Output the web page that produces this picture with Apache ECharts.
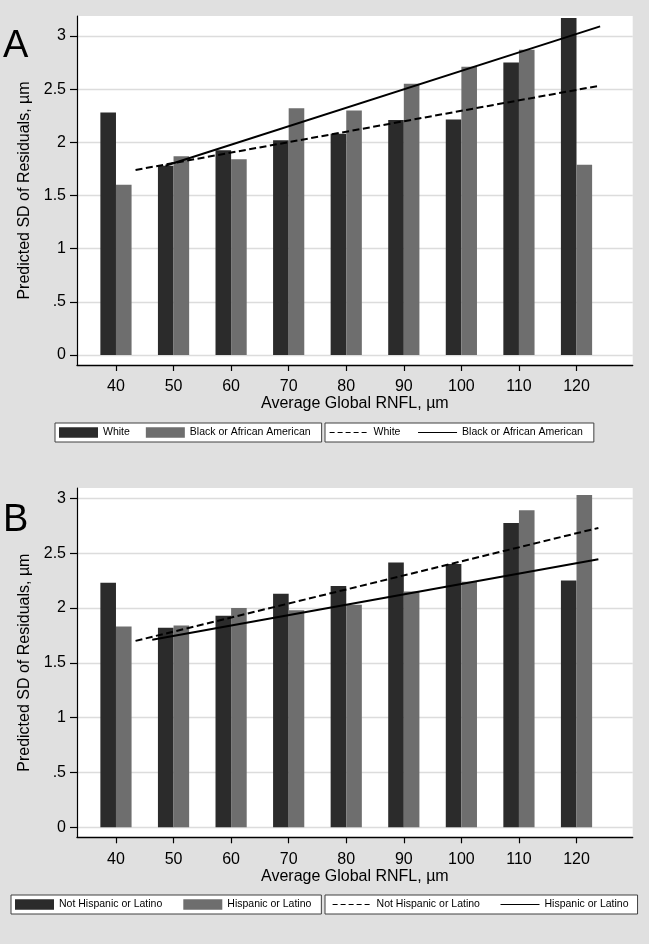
<!DOCTYPE html>
<html><head><meta charset="utf-8">
<script src="https://cdn.jsdelivr.net/npm/echarts@6/dist/echarts.min.js"></script>
<style>html,body{margin:0;padding:0;background:#e0e0e0}#c{width:649px;height:944px}</style>
</head><body><div id="c"></div><script>
// ---- data ----
const rnfl = [40, 50, 60, 70, 80, 90, 100, 110, 120];
const yTicks = [0, 0.5, 1, 1.5, 2, 2.5, 3];
// Panel A
const whiteBars = [2.28, 1.78, 1.925, 2.02, 2.08, 2.21, 2.215, 2.75, 3.17];
const blackBars = [1.60, 1.87, 1.84, 2.32, 2.30, 2.55, 2.71, 2.87, 1.79];
const whiteFit = [[43.4, 1.74], [123.8, 2.53]];
const blackFit = [[48.6, 1.78], [124.1, 3.09]];
// Panel B
const notHispBars = [2.23, 1.82, 1.93, 2.13, 2.20, 2.415, 2.40, 2.775, 2.25];
const hispBars = [1.83, 1.84, 2.00, 1.98, 2.03, 2.15, 2.24, 2.89, 3.03];
const notHispFit = [[43.4, 1.70], [123.8, 2.73]];
const hispFit = [[46.3, 1.71], [123.8, 2.445]];

const FONT = 'Liberation Sans, Arial, Helvetica, sans-serif';
const DARK = '#2b2b2b', GRAY = '#6e6e6e';
const DASH = [7, 3.5];
const pairs = arr => rnfl.map((x, i) => [x, arr[i]]);
const fmtY = v => v === 0 ? '0' : (v < 1 ? String(v).replace(/^0/, '') : String(v));

function xAxisCfg(gi) {
  return {
    type: 'value', gridIndex: gi, min: 33.23, max: 129.76,
    axisLine: {show: true, onZero: false, lineStyle: {color: '#000', width: 1.3}},
    axisTick: {show: true, customValues: rnfl, length: 6, lineStyle: {color: '#000', width: 1.2}},
    axisLabel: {customValues: rnfl, fontSize: 16, color: '#000', fontFamily: FONT, margin: 14},
    splitLine: {show: false},
    name: 'Average Global RNFL, µm', nameLocation: 'middle', nameGap: 25,
    nameTextStyle: {fontSize: 16, color: '#000', fontFamily: FONT}
  };
}
function yAxisCfg(gi, mn, mx) {
  return {
    type: 'value', gridIndex: gi, min: mn, max: mx,
    axisLine: {show: true, onZero: false, lineStyle: {color: '#000', width: 1.2}},
    axisTick: {show: true, customValues: yTicks, length: 7, lineStyle: {color: '#000', width: 1.2}},
    axisLabel: {customValues: yTicks, formatter: fmtY, fontSize: 16, color: '#000', fontFamily: FONT, margin: 11},
    splitLine: {show: true, lineStyle: {color: '#dcdcdc', width: 1.3}},
    name: 'Predicted SD of Residuals, µm', nameLocation: 'middle', nameGap: 34,
    nameTextStyle: {fontSize: 16, color: '#000', fontFamily: FONT}
  };
}
function barSeries(name, data, color, gi) {
  return {type: 'bar', name, xAxisIndex: gi, yAxisIndex: gi, data: pairs(data),
    barWidth: 15.6, barGap: '0%', itemStyle: {color}, z: 2};
}
function lineSeries(name, data, dashed, gi) {
  return {type: 'line', name, xAxisIndex: gi, yAxisIndex: gi, data, symbol: 'none',
    itemStyle: {color: '#000'},
    lineStyle: {color: '#000', width: 2, type: dashed ? DASH : 'solid'}, z: 3};
}
const legendBase = {
  orient: 'horizontal', itemWidth: 39, itemHeight: 10.5, borderColor: '#404040', borderWidth: 1,
  backgroundColor: '#fff', selectedMode: false, borderRadius: 0,
  textStyle: {fontSize: 10.5, color: '#000', fontFamily: FONT, lineHeight: 11},
  formatter: n => n.replace(' (fit)', '')
};
const legItemBar = n => ({name: n, icon: 'rect'});
const legItemLine = (n, dashed) => ({name: n,
  itemStyle: {color: 'rgba(0,0,0,0)', borderWidth: 0, opacity: 0},
  lineStyle: {width: 1.2, color: '#000', type: dashed ? [5, 3] : 'solid'}});

const option = {
  backgroundColor: '#e0e0e0',
  animation: false,
  textStyle: {fontFamily: FONT},
  title: [
    {text: 'A', left: 3, top: 28, padding: 0, textStyle: {fontSize: 38, fontWeight: 'normal', color: '#000', fontFamily: FONT}},
    {text: 'B', left: 3, top: 502, padding: 0, textStyle: {fontSize: 38, fontWeight: 'normal', color: '#000', fontFamily: FONT}}
  ],
  grid: [
    {left: 77, top: 16, width: 555.7, height: 349, show: true, backgroundColor: '#ffffff', borderWidth: 0},
    {left: 77, top: 488, width: 555.7, height: 349.3, show: true, backgroundColor: '#ffffff', borderWidth: 0}
  ],
  xAxis: [xAxisCfg(0), xAxisCfg(1)],
  yAxis: [yAxisCfg(0, -0.094, 3.188), yAxisCfg(1, -0.091, 3.094)],
  legend: [
    Object.assign({}, legendBase, {left: 55, top: 423, padding: [4, 11, 4, 4], itemGap: 16,
      data: [legItemBar('White'), legItemBar('Black or African American')]}),
    Object.assign({}, legendBase, {left: 325, top: 423, padding: [4, 11, 4, 4], itemGap: 17,
      data: [legItemLine('White (fit)', true), legItemLine('Black or African American (fit)', false)]}),
    Object.assign({}, legendBase, {left: 11, top: 895, padding: [4, 10, 4, 4], itemGap: 21,
      data: [legItemBar('Not Hispanic or Latino'), legItemBar('Hispanic or Latino')]}),
    Object.assign({}, legendBase, {left: 325, top: 895, padding: [4, 9, 4, 7], itemGap: 20,
      data: [legItemLine('Not Hispanic or Latino (fit)', true), legItemLine('Hispanic or Latino (fit)', false)]})
  ],
  series: [
    barSeries('White', whiteBars, DARK, 0),
    barSeries('Black or African American', blackBars, GRAY, 0),
    lineSeries('White (fit)', whiteFit, true, 0),
    lineSeries('Black or African American (fit)', blackFit, false, 0),
    barSeries('Not Hispanic or Latino', notHispBars, DARK, 1),
    barSeries('Hispanic or Latino', hispBars, GRAY, 1),
    lineSeries('Not Hispanic or Latino (fit)', notHispFit, true, 1),
    lineSeries('Hispanic or Latino (fit)', hispFit, false, 1)
  ]
};
const chart = echarts.init(document.getElementById('c'), null, {renderer: 'canvas'});
chart.setOption(option);
</script></body></html>
